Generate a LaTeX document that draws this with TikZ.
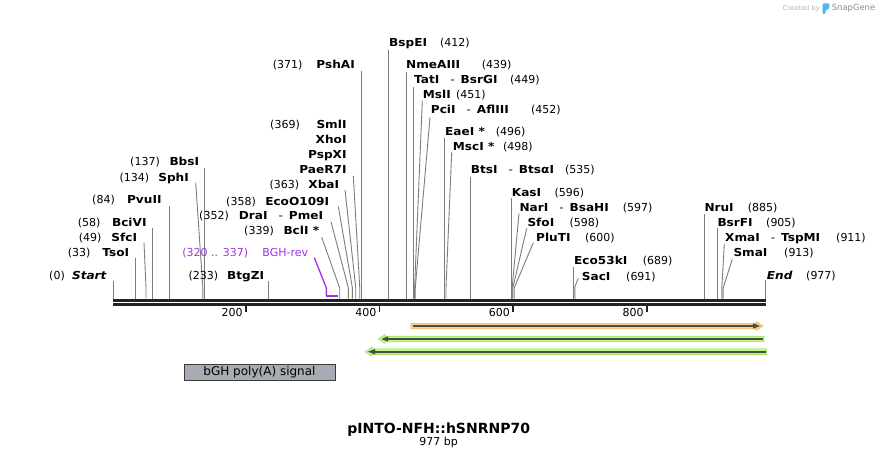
\documentclass[tikz,border=0pt]{standalone}
\usepackage{fontspec}
\setmainfont{DejaVu Sans}
\newfontfamily\enzfont[FakeStretch=1.1]{DejaVu Sans}
\usetikzlibrary{calc,positioning}

\definecolor{cutgray}{RGB}{125,125,125}
\definecolor{bbone}{RGB}{34,34,34}
\definecolor{primerpurple}{RGB}{163,51,235}
\definecolor{featgray}{RGB}{166,171,180}
\definecolor{featline}{RGB}{60,60,60}
\definecolor{orfill}{RGB}{251,207,134}
\definecolor{ordraw}{RGB}{242,182,92}
\definecolor{grfill}{RGB}{192,245,140}
\definecolor{grdraw}{RGB}{160,228,100}
\definecolor{arrowdark}{RGB}{75,75,75}
\definecolor{wmlight}{RGB}{180,180,180}
\definecolor{wmdark}{RGB}{140,140,140}
\definecolor{logoblue}{RGB}{80,180,240}

% bp -> x position on the map
\newcommand{\bpx}[1]{113.3+0.668*#1}
\newcommand{\enzdash}{\hspace{11pt}{\mdseries -}\hspace{6pt}}

\tikzset{
    enz/.style={inner sep=0pt, font=\enzfont\bfseries\fontsize{11}{13}\selectfont},
    enzL/.style={enz, anchor=base east},
    enzR/.style={enz, anchor=base west},
    num/.style={inner sep=0pt, font=\fontsize{11}{13}\selectfont},
    numL/.style={num, anchor=base east},
    numR/.style={num, anchor=base west},
    cut/.style={draw=cutgray, line width=0.9pt},
    bb/.style={draw=bbone, line width=3pt},
    primer/.style={text=primerpurple},
}

\begin{document}
\begin{tikzpicture}[x=1pt, y=-1pt]
    \fill[white] (0,0) rectangle (880,457);
    \useasboundingbox (0,0) rectangle (880,457);

    % backbone
    \coordinate (bbL) at ({\bpx{0}},300.2);
    \coordinate (bbR) at ({\bpx{977}},300.2);
    \draw[bb] (bbL) -- (bbR);
    \draw[bb] ($(bbL)+(0,4)$) -- ($(bbR)+(0,4)$);

    \foreach \t in {200,400,600,800} {
        \coordinate (tick\t) at ({\bpx{\t}-1},305.5);
        \draw[draw=bbone, line width=1.6pt] (tick\t) -- ++(0,6.5);
        \node[numL] (tl\t) at ($(tick\t)+(-3,10.5)$) {\t};
    }

    \foreach \p in {0,33,49,58,84,134,137,233,339,352,358,363,369,371,412,439,449,451,452,496,498,535,596,597,598,600,689,691,885,905,911,913,977}
        \coordinate (s\p) at ({\bpx{\p}},298.7);

    % left labels
    \node[enzL] (Start) at (106.7,279) {\itshape Start};
    \node[numL] (n0) at (65,279) {(0)};
    \draw[cut] (s0) -- ($(s0 |- Start.base)+(0,1.5)$);

    \node[enzL] (TsoI) at (129.3,256) {TsoI};
    \node[numL] (n33) at (90.7,256) {(33)};
    \draw[cut] (s33) -- ($(s33 |- TsoI.base)+(0,2)$);

    \node[enzL] (SfcI) at (137.3,241) {SfcI};
    \node[numL] (n49) at (101.7,241) {(49)};
    \draw[cut] ($(SfcI.base east)+(6.7,1.7)$) -- ($(s49)+(0,-10.5)$) -- (s49);

    \node[enzL] (BciVI) at (146.7,226) {BciVI};
    \node[numL] (n58) at (100.7,226) {(58)};
    \draw[cut] (s58) -- ($(s58 |- BciVI.base)+(0,2)$);

    \node[enzL] (PvuII) at (161.7,204) {PvuII};
    \node[numL] (n84) at (115,204) {(84)};
    \draw[cut] (s84) -- ($(s84 |- PvuII.base)+(0,2)$);

    \node[enzL] (SphI) at (189,181.3) {SphI};
    \node[numL] (n134) at (149.3,181.3) {(134)};
    \draw[cut] ($(SphI.base east)+(6.7,1.4)$) -- ($(s134)+(0,-11)$) -- (s134);

    \node[enzL] (BbsI) at (199.3,166) {BbsI};
    \node[numL] (n137) at (160,166) {(137)};
    \draw[cut] (s137) -- ($(s137 |- BbsI.base)+(0,2)$);

    \node[enzL] (BtgZI) at (264.3,279) {BtgZI};
    \node[numL] (n233) at (218.3,279) {(233)};
    \draw[cut] (s233) -- ($(s233 |- BtgZI.base)+(0,1.5)$);

    % primer
    \node[numL, primer] (BGHrev) at (308.3,256) {BGH-rev};
    \node[numL, primer] (n320) at (248.3,256) {(320 .. 337)};
    \coordinate (p320) at ({\bpx{319}},296);
    \coordinate (p337) at ({\bpx{336}},296);
    \draw[primerpurple, line width=1.3pt] ($(BGHrev.base east)+(6,1.7)$) -- ($(p320)+(0,-8)$) -- (p320);
    \draw[primerpurple, line width=2pt] (p320) -- (p337);

    \node[enzL] (BclI) at (319.3,234) {BclI *};
    \node[numL] (n339) at (274,234) {(339)};
    \draw[cut] ($(BclI.base east)+(2.4,3.3)$) -- ($(s339)+(0,-10.5)$) -- (s339);

    \node[enzL] (DraI) at (323.3,219) {DraI\enzdash PmeI};
    \node[numL] (n352) at (229,219) {(352)};
    \draw[cut] ($(DraI.base east)+(7.7,2.7)$) -- ($(s352)+(0,-10.5)$) -- (s352);

    \node[enzL] (EcoO109I) at (329.3,205) {EcoO109I};
    \node[numL] (n358) at (256,205) {(358)};
    \draw[cut] ($(EcoO109I.base east)+(9,1.5)$) -- ($(s358)+(0,-10.5)$) -- (s358);

    \node[enzL] (XbaI) at (339.3,189) {XbaI};
    \node[numL] (n363) at (299.3,189) {(363)};
    \draw[cut] ($(XbaI.base east)+(5.7,1)$) -- ($(s363)+(0,-10.5)$) -- (s363);

    \node[enzL] (SmlI) at (346.7,129) {SmlI};
    \node[numL] (n369) at (300,129) {(369)};
    \node[enzL] (XhoI) at (346.7,144) {XhoI};
    \node[enzL] (PspXI) at (346.7,159) {PspXI};
    \node[enzL] (PaeR7I) at (346.7,174) {PaeR7I};
    \draw[cut] ($(PaeR7I.base east)+(6.6,2)$) -- ($(s369)+(0,-10.5)$) -- (s369);

    \node[enzL] (PshAI) at (355,69) {PshAI};
    \node[numL] (n371) at (302.7,69) {(371)};
    \draw[cut] (s371) -- ($(s371 |- PshAI.base)+(0,2.5)$);

    % right labels
    \node[enzR] (BspEI) at (389,47) {BspEI};
    \node[numR] (n412) at (440,47) {(412)};
    \draw[cut] (s412) -- ($(s412 |- BspEI.base)+(0,3.5)$);

    \node[enzR] (NmeAIII) at (406,68.3) {NmeAIII};
    \node[numR] (n439) at (481.7,68.3) {(439)};
    \draw[cut] (s439) -- ($(s439 |- NmeAIII.base)+(0,3.4)$);

    \node[enzR] (TatI) at (414,83.3) {TatI\enzdash BsrGI};
    \node[numR] (n449) at (510,83.3) {(449)};
    \draw[cut] (s449) -- ($(s449 |- TatI.base)+(0,3.4)$);

    \node[enzR] (MslI) at (422.7,98.3) {MslI};
    \node[numR] (n451) at (456,98.3) {(451)};
    \draw[cut] ($(MslI.base west)+(-0.4,2.4)$) -- ($(s451)+(0,-10.5)$) -- (s451);

    \node[enzR] (PciI) at (430.7,114) {PciI\enzdash AflIII};
    \node[numR] (n452) at (531,114) {(452)};
    \draw[cut] ($(PciI.base west)+(-0.7,3.3)$) -- ($(s452)+(0,-10.5)$) -- (s452);

    \node[enzR] (EaeI) at (445,136) {EaeI *};
    \node[numR] (n496) at (495.7,136) {(496)};
    \draw[cut] (s496) -- ($(s496 |- EaeI.base)+(0,1.7)$);

    \node[enzR] (MscI) at (452.7,150.7) {MscI *};
    \node[numR] (n498) at (503,150.7) {(498)};
    \draw[cut] ($(MscI.base west)+(-1,1.6)$) -- ($(s498)+(0,-10.5)$) -- (s498);

    \node[enzR] (BtsI) at (470.7,174) {BtsI\enzdash Btsα{}I};
    \node[numR] (n535) at (565,174) {(535)};
    \draw[cut] (s535) -- ($(s535 |- BtsI.base)+(0,3.3)$);

    \node[enzR] (KasI) at (511.7,196.5) {KasI};
    \node[numR] (n596) at (554.3,196.5) {(596)};
    \draw[cut] (s596) -- ($(s596 |- KasI.base)+(0,1.8)$);

    \node[enzR] (NarI) at (519.3,211.5) {NarI\enzdash BsaHI};
    \node[numR] (n597) at (622.7,211.5) {(597)};
    \draw[cut] ($(NarI.base west)+(-0.3,1.8)$) -- ($(s597)+(0,-10.5)$) -- (s597);

    \node[enzR] (SfoI) at (527.3,226.5) {SfoI};
    \node[numR] (n598) at (569.3,226.5) {(598)};
    \draw[cut] ($(SfoI.base west)+(-0.6,1.8)$) -- ($(s598)+(0,-10.5)$) -- (s598);

    \node[enzR] (PluTI) at (536,241.5) {PluTI};
    \node[numR] (n600) at (585,241.5) {(600)};
    \draw[cut] ($(PluTI.base west)+(-2.7,1.2)$) -- ($(s600)+(0,-10.5)$) -- (s600);

    \node[enzR] (Eco53kI) at (574,264) {Eco53kI};
    \node[numR] (n689) at (642.7,264) {(689)};
    \draw[cut] (s689) -- ($(s689 |- Eco53kI.base)+(0,2.7)$);

    \node[enzR] (SacI) at (581.7,280) {SacI};
    \node[numR] (n691) at (626,280) {(691)};
    \draw[cut] ($(SacI.base west)+(-3.4,-1.7)$) -- ($(s691)+(0,-12)$) -- (s691);

    \node[enzR] (NruI) at (704.3,211.7) {NruI};
    \node[numR] (n885) at (747.7,211.7) {(885)};
    \draw[cut] (s885) -- ($(s885 |- NruI.base)+(0,2.3)$);

    \node[enzR] (BsrFI) at (717.3,226.7) {BsrFI};
    \node[numR] (n905) at (766,226.7) {(905)};
    \draw[cut] (s905) -- ($(s905 |- BsrFI.base)+(0,1.6)$);

    \node[enzR] (XmaI) at (725,241.7) {XmaI\enzdash TspMI};
    \node[numR] (n911) at (836,241.7) {(911)};
    \draw[cut] ($(XmaI.base west)+(-0.7,2.3)$) -- ($(s911)+(0,-11)$) -- (s911);

    \node[enzR] (SmaI) at (733.3,256.7) {SmaI};
    \node[numR] (n913) at (784,256.7) {(913)};
    \draw[cut] ($(SmaI.base west)+(-1,2.6)$) -- ($(s913)+(0,-11)$) -- (s913);

    \node[enzR] (End) at (766.7,279.3) {\itshape End};
    \node[numR] (n977) at (806,279.3) {(977)};
    \draw[cut] (s977) -- ($(s977 |- End.base)+(0,1)$);

    % features
    \filldraw[fill=orfill, draw=ordraw, line width=0.6pt]
        (411,323.3) -- (756,323.3) -- (756,321.5) -- (763,326) -- (756,330.5) -- (756,328.7) -- (411,328.7) -- cycle;
    \draw[arrowdark, line width=1.7pt] (413,326) -- (754,326);
    \fill[arrowdark] (753,323.3) -- (760,326) -- (753,328.7) -- cycle;

    \filldraw[fill=grfill, draw=grdraw, line width=0.6pt]
        (764,336.2) -- (385,336.2) -- (385,334.5) -- (378.3,339) -- (385,343.5) -- (385,341.8) -- (764,341.8) -- cycle;
    \draw[arrowdark, line width=1.7pt] (763,339) -- (387,339);
    \fill[arrowdark] (388,336.3) -- (381.3,339) -- (388,341.7) -- cycle;

    \filldraw[fill=grfill, draw=grdraw, line width=0.6pt]
        (766.7,348.9) -- (372,348.9) -- (372,347.2) -- (365,351.7) -- (372,356.2) -- (372,354.5) -- (766.7,354.5) -- cycle;
    \draw[arrowdark, line width=1.7pt] (765.7,351.7) -- (374,351.7);
    \fill[arrowdark] (375,349) -- (368,351.7) -- (375,354.4) -- cycle;

    \node[draw=featline, fill=featgray, line width=0.9pt, inner sep=0pt,
          minimum width=151pt, minimum height=16.4pt,
          font=\fontsize{12}{14}\selectfont] (bGH) at (259.5,372.5) {bGH poly(A) signal};

    % title
    \node[anchor=base, inner sep=0pt, font=\bfseries\fontsize{14}{16}\selectfont] (title) at (438.7,433.5) {pINTO-NFH::hSNRNP70};
    \node[below=0pt of title, inner sep=0pt, font=\fontsize{11}{13}\selectfont] (len) {977 bp};

    % watermark
    \node[anchor=base west, inner sep=0pt, text=wmlight, font=\fontsize{6.7}{8}\selectfont] (created) at (782.7,10.5) {Created by};
    \fill[logoblue, rounded corners=1pt] (822.7,14) -- (822.7,3.5) -- (829.3,3.5) -- (829.3,8.5) -- (825.3,10.5) -- (825.3,14) -- cycle;
    \node[anchor=base west, inner sep=0pt, text=wmdark, font=\fontsize{8.4}{10}\selectfont] (snapgene) at (831.7,10.7) {SnapGene};
\end{tikzpicture}
\end{document}
